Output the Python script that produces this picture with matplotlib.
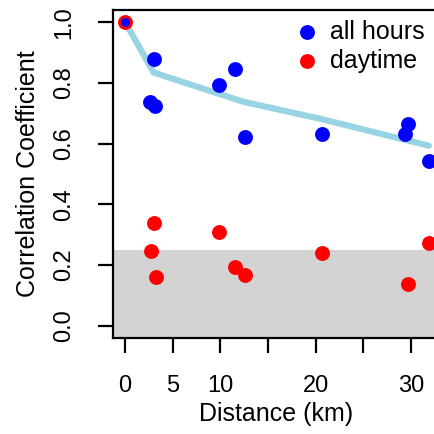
import matplotlib.pyplot as plt

plt.rcParams['font.family'] = ['Liberation Sans', 'DejaVu Sans']

# all hours (blue)
dist_all = [0, 3.07, 2.6, 3.15, 9.9, 11.57, 12.55, 20.63, 29.7, 29.4, 31.9]
corr_all = [1.0, 0.878, 0.738, 0.725, 0.793, 0.845, 0.621, 0.632, 0.665, 0.632, 0.543]

# daytime (red)
dist_day = [0, 3.04, 2.69, 3.22, 9.9, 11.5, 12.55, 20.67, 29.76, 31.9]
corr_day = [1.0, 0.338, 0.248, 0.160, 0.309, 0.193, 0.166, 0.240, 0.138, 0.274]

# fitted decay line
fit_x = [0, 3.0, 12.4, 20.6, 31.9]
fit_y = [1.0, 0.834, 0.738, 0.681, 0.593]

sig_level = 0.25

fig = plt.figure(figsize=(4.35, 4.34), dpi=100)
ax = fig.add_axes([0.2598, 0.2212, 0.7517, 0.7558])

ax.axhspan(-1, sig_level, color='lightgray', lw=0, zorder=0)
ax.plot(fit_x, fit_y, color='#99d4e4', lw=4.5, solid_capstyle='round', zorder=1)

ax.scatter(dist_day[1:], corr_day[1:], s=115, color='red', lw=0, zorder=2)
ax.scatter(dist_all[1:], corr_all[1:], s=115, color='blue', lw=0, zorder=2)
ax.scatter(dist_day[:1], corr_day[:1], s=115, color='red', lw=0, zorder=3)
ax.scatter(dist_all[:1], corr_all[:1], s=42, color='blue', lw=0, zorder=4)

ax.set_xlim(-1.27, 33.07)
ax.set_ylim(-0.04, 1.04)
ax.set_xticks([0, 5, 10, 15, 20, 25, 30])
ax.set_xticklabels(['0', '5', '10', '', '20', '', '30'])
ax.set_yticks([0, 0.2, 0.4, 0.6, 0.8, 1.0])
ax.set_yticklabels(['0.0', '0.2', '0.4', '0.6', '0.8', '1.0'], rotation=90, va='center')

for s in ax.spines.values():
    s.set_linewidth(1.6)
ax.spines['right'].set_visible(False)
ax.tick_params(length=11, width=1.6, labelsize=17, pad=16)

ax.set_xlabel('Distance (km)', fontsize=18, labelpad=3)
ax.set_ylabel('Correlation Coefficient', fontsize=18, labelpad=10)

h1 = ax.scatter([], [], s=115, color='blue', lw=0)
h2 = ax.scatter([], [], s=115, color='red', lw=0)
ax.legend([h1, h2], ['all hours', 'daytime'], loc='upper right', frameon=False,
          fontsize=18, handlelength=0.8, handletextpad=0.55, borderaxespad=0.0,
          bbox_to_anchor=(0.985, 1.0), labelspacing=0.2)

fig.savefig('out.png', dpi=100)
